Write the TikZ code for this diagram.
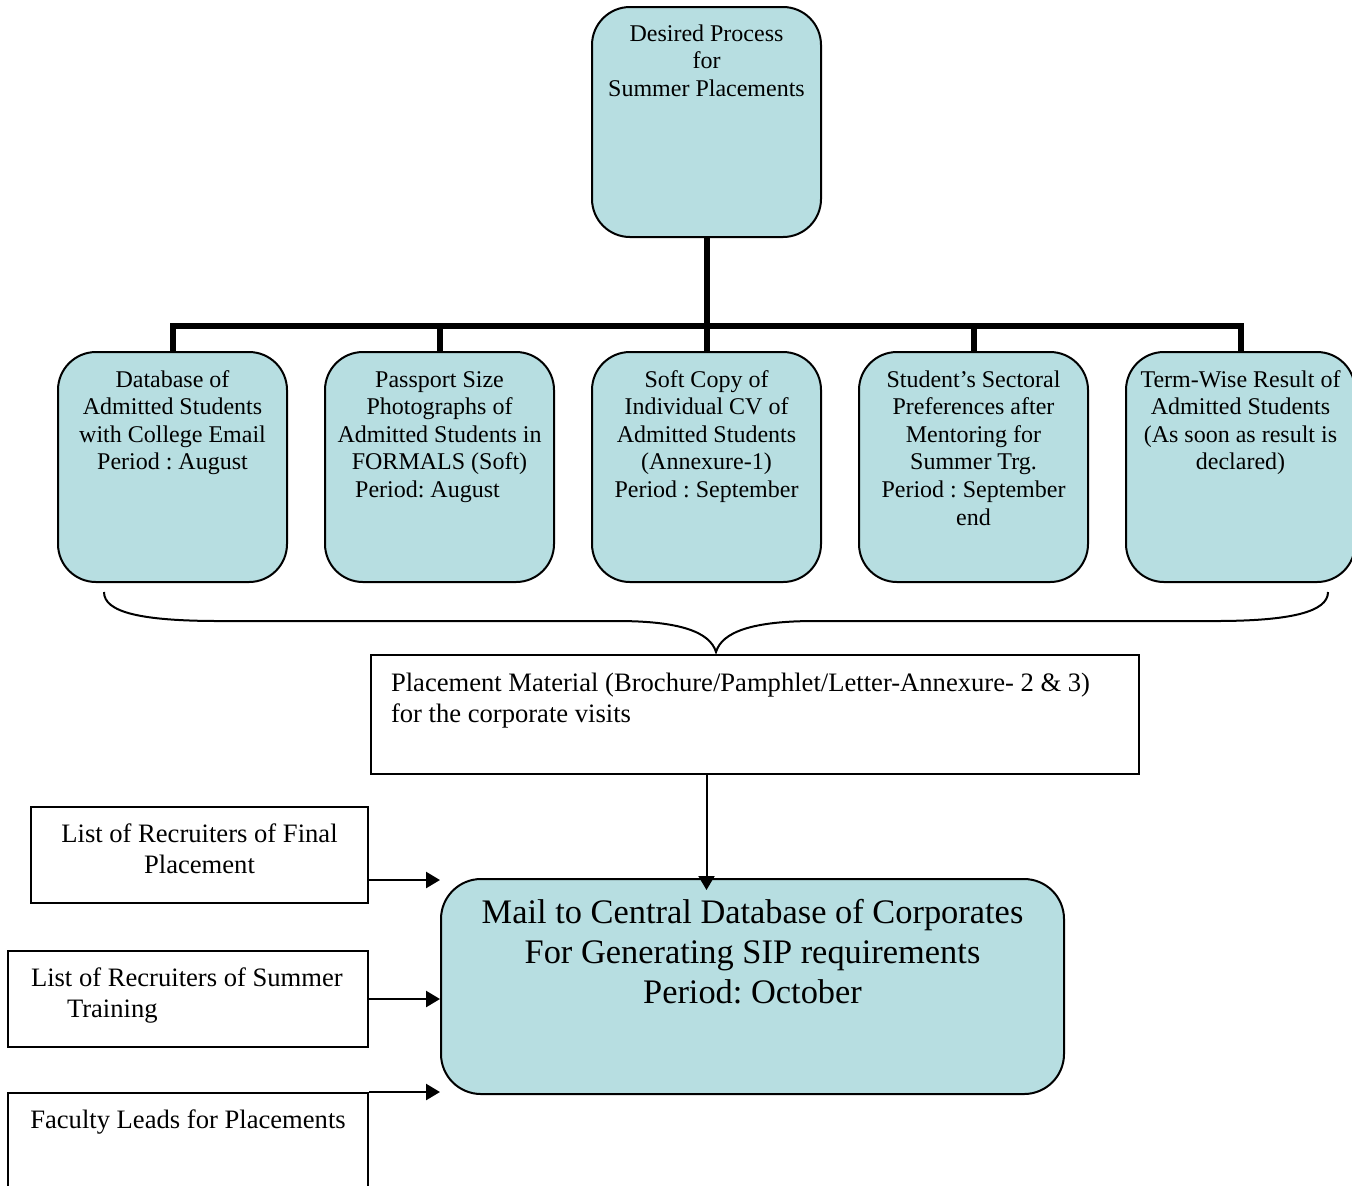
\documentclass[tikz,border=0pt]{standalone}
\usepackage{fontspec}
\setmainfont{Liberation Serif}
\usetikzlibrary{arrows.meta}
\definecolor{boxfill}{RGB}{183,222,225}
\newcommand{\bt}[4]{\parbox[c][#2][t]{#1}{\centering\rule{0pt}{#3}#4\par}}
\frenchspacing
\begin{document}
\begin{tikzpicture}[x=0.5pt,y=-0.5pt,
  rbox/.style={draw=black, line width=1pt, fill=boxfill, rounded corners=19pt, inner sep=0pt, anchor=north west, font=\fontsize{12}{13.8}\selectfont},
  sbox/.style={draw=black, line width=1pt, fill=white, inner sep=0pt, anchor=north west, font=\fontsize{13.3}{15.5}\selectfont},
  bus/.style={line width=3pt},
  arr/.style={line width=1.3pt, -{Triangle[length=7pt,width=8pt]}},
  brace/.style={line width=1pt}]
\useasboundingbox (0,0) rectangle (1352,1185);
\clip (0,0) rectangle (1352,1185);
\fill[white] (0,0) rectangle (1352,1185);

% top box
\node[rbox] (top) at (591,6) {\bt{114.5pt}{115pt}{17pt}{Desired Process\\for\\Summer Placements}};

% lower boxes
\node[rbox] (b1) at (57,351) {\bt{114.5pt}{115pt}{17.5pt}{Database of\\Admitted Students\\with College Email\\Period : August}};
\node[rbox] (b2) at (324,351) {\bt{114.5pt}{115pt}{17.5pt}{Passport Size\\Photographs of\\Admitted Students in\\FORMALS (Soft)\\Period: August\hspace*{12pt}}};
\node[rbox] (b3) at (591,351) {\bt{114.5pt}{115pt}{17.5pt}{Soft Copy of\\Individual CV of\\Admitted Students\\(Annexure-1)\\Period : September}};
\node[rbox] (b4) at (858,351) {\bt{114.5pt}{115pt}{17.5pt}{Student’s Sectoral\\Preferences after\\Mentoring for\\Summer Trg.\\Period : September\\end}};
\node[rbox] (b5) at (1125,351) {\bt{114.5pt}{115pt}{17.5pt}{Term-Wise Result of\\Admitted Students\\(As soon as result is\\declared)}};

% tree connectors
\coordinate (bus) at (top.south |- 0,326);
\draw[bus] (top.south) -- (bus);
\draw[bus] (b1.north) -- (b1.north |- bus) -- (b5.north |- bus) -- (b5.north);
\draw[bus] (b2.north |- bus) -- (b2.north);
\draw[bus] (b3.north |- bus) -- (b3.north);
\draw[bus] (b4.north |- bus) -- (b4.north);

% brace
\draw[brace] (104,592) .. controls (104,612) and (140,621) .. (220,621) -- (617,621)
  .. controls (680,621) and (710,632) .. (716,652)
  .. controls (722,632) and (752,621) .. (815,621) -- (1215,621)
  .. controls (1290,621) and (1328,612) .. (1328,592);

% placement material
\node[sbox] (pm) at (370,654) {\parbox[c][59.5pt][t]{384pt}{\raggedright\leftskip=10pt\rule{0pt}{18pt}Placement Material (Brochure/Pamphlet/Letter-Annexure- 2 \& 3)\\for the corporate visits\par}};

% mail box
\node[rbox, rounded corners=20pt, font=\fontsize{17.2}{20}\selectfont] (mail) at (440,878) {\bt{311.5pt}{107.5pt}{22pt}{Mail to Central Database of Corporates\\For Generating SIP requirements\\Period: October}};

% left boxes
\node[sbox] (L1) at (30,806) {\bt{168.5pt}{48pt}{17.5pt}{List of Recruiters of Final\\Placement}};
\node[sbox] (L2) at (7,950) {\parbox[c][48pt][t]{180pt}{\raggedright\leftskip=11.5pt\rule{0pt}{17.5pt}List of Recruiters of Summer\\\hspace*{18pt}Training\par}};
\node[sbox] (L3) at (7,1092) {\bt{180pt}{100pt}{17.5pt}{Faculty Leads for Placements}};

% arrows
\coordinate (m1) at (top.south |- mail.north);
\draw[arr, line width=1pt] (top.south |- pm.south) -- ([yshift=-6pt]m1);
\coordinate (a1) at ([yshift=-12.5pt]L1.east);
\draw[arr] (a1) -- (a1 -| mail.west);
\draw[arr] (L2.east) -- (L2.east -| mail.west);
\draw[arr] (L3.north east) -- (L3.north east -| mail.west);
\end{tikzpicture}
\end{document}
